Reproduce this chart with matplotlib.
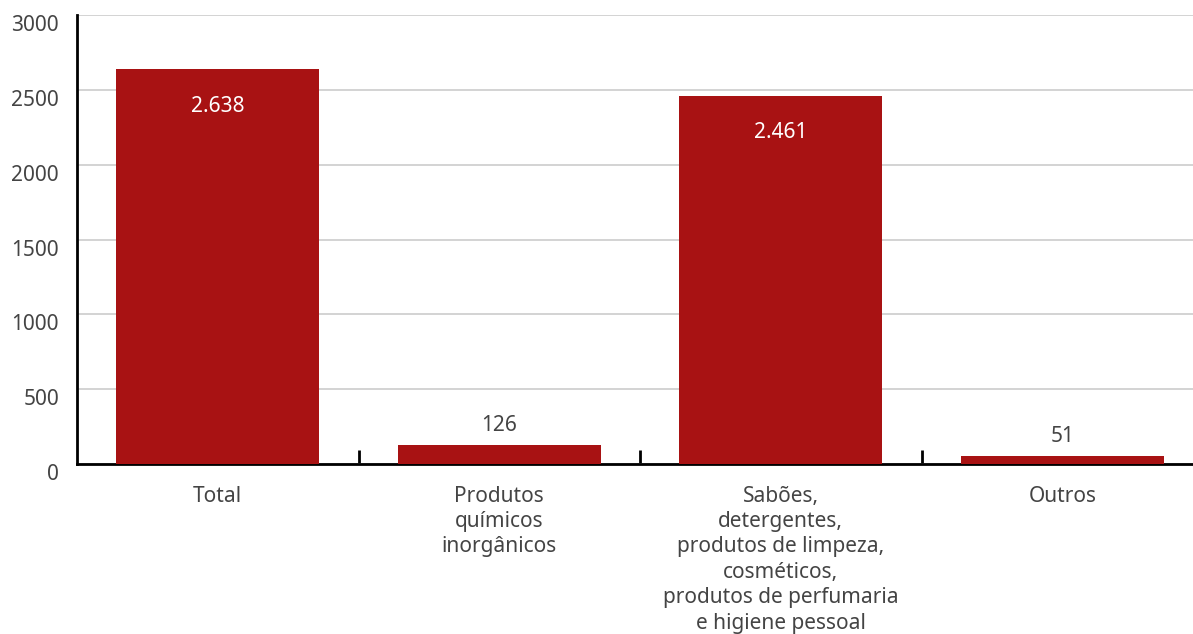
import matplotlib
matplotlib.use("Agg")
import matplotlib.pyplot as plt
import matplotlib.transforms as mtransforms
from matplotlib.ticker import FixedLocator, NullFormatter

categories = ["Total", "Produtos\nquímicos\ninorgânicos",
              "Sabões,\ndetergentes,\nprodutos de limpeza,\ncosméticos,\nprodutos de perfumaria\ne higiene pessoal",
              "Outros"]
values = [2638, 126, 2461, 51]
value_labels = ["2.638", "126", "2.461", "51"]
yticks = [0, 500, 1000, 1500, 2000, 2500, 3000]

plt.rcParams['font.family'] = ['Noto Sans', 'DejaVu Sans']
W, H = 1193, 634
fig = plt.figure(figsize=(W/100, H/100), dpi=100)
left, right, top, bottom = 77, 1203, 15, 464
ax = fig.add_axes([left/W, 1-bottom/H, (right-left)/W, (bottom-top)/H])

bar_color = "#a81213"
text_color = "#444444"
fs = 15
x = list(range(len(categories)))
ax.bar(x, values, width=0.72, color=bar_color, zorder=3)
ax.set_xlim(-0.5, len(categories)-0.5)
ax.set_ylim(0, 3000)
ax.set_yticks(yticks)
ax.set_yticklabels([str(t) for t in yticks], fontsize=fs, color=text_color)
ax.tick_params(axis='y', length=0, pad=13)
shift = mtransforms.ScaledTranslation(0, -8/100, fig.dpi_scale_trans)
for lab in ax.get_yticklabels():
    lab.set_transform(lab.get_transform() + shift)
ax.grid(axis='y', color='#cccccc', linewidth=1.2, zorder=0)

ax.set_xticks(x)
ax.set_xticklabels(categories, fontsize=fs, color=text_color, linespacing=1.28, va='top')
ax.tick_params(axis='x', which='major', length=0, pad=15.5)
ax.xaxis.set_minor_locator(FixedLocator([i + 0.5 for i in range(len(categories)-1)]))
ax.xaxis.set_minor_formatter(NullFormatter())
ax.tick_params(axis='x', which='minor', direction='in', length=10, width=2, color='black')

for s in ['top', 'right']:
    ax.spines[s].set_visible(False)
ax.spines['left'].set_linewidth(2)
ax.spines['bottom'].set_linewidth(2)
ax.spines['left'].set_color('black')
ax.spines['bottom'].set_color('black')

for xi, v, lab in zip(x, values, value_labels):
    if v > 1000:
        ax.annotate(lab, (xi, v), xytext=(0, -37), textcoords='offset pixels',
                    ha='center', va='center', color='white', fontsize=fs, zorder=4)
    else:
        ax.annotate(lab, (xi, v), xytext=(0, 20), textcoords='offset pixels',
                    ha='center', va='center', color=text_color, fontsize=fs, zorder=4)

fig.savefig("out.png", dpi=100)
